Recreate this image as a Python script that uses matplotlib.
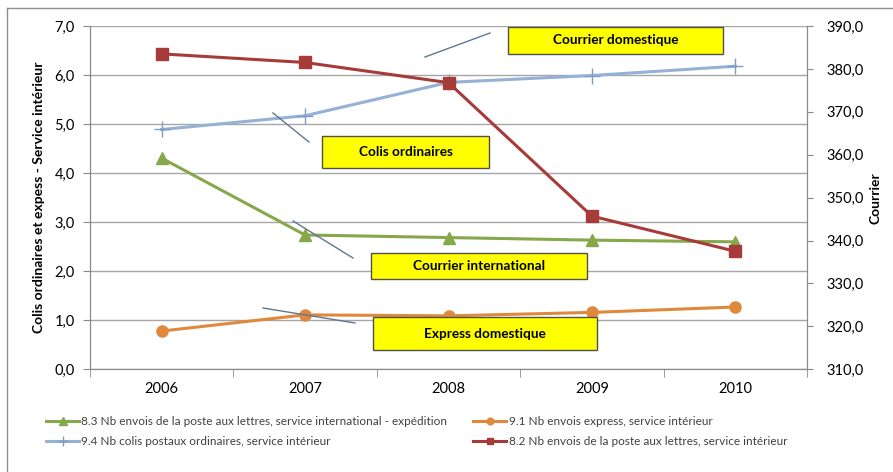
import numpy as np
import matplotlib
matplotlib.use('Agg')
import matplotlib.pyplot as plt
from matplotlib.patches import Rectangle
from matplotlib.lines import Line2D
from matplotlib.ticker import FuncFormatter

plt.rcParams['font.family'] = ['Lato', 'DejaVu Sans']

annees = ['2006', '2007', '2008', '2009', '2010']

# axe gauche : colis ordinaires et express (service intérieur)
colis_ordinaires = [4.89, 5.17, 5.85, 5.99, 6.18]
express_interieur = [0.78, 1.11, 1.09, 1.16, 1.27]

# axe droit : courrier
courrier_international = [359.2, 341.3, 340.7, 340.1, 339.7]
courrier_interieur = [383.5, 381.5, 376.8, 345.7, 337.5]

lbl_intl = '8.3 Nb envois de la poste aux lettres, service international - expédition'
lbl_express = '9.1 Nb envois express, service intérieur'
lbl_colis = '9.4 Nb colis postaux ordinaires, service intérieur'
lbl_dom = '8.2 Nb envois de la poste aux lettres, service intérieur'

c_vert = '#86a84a'
c_orange = '#e0883c'
c_bleu = '#95b1d6'
c_rouge = '#a63b3a'
c_axe = '#8a8a8a'

W, H = 893, 472
fig = plt.figure(figsize=(W / 100, H / 100), dpi=100)

def fx(x):
    return x / W

def fy(y):
    return 1 - y / H

ax = fig.add_axes([fx(90), fy(369.3), 717 / W, 343.3 / H])
ax2 = ax.twinx()

x = np.arange(len(annees))

ax.plot(x, colis_ordinaires, color=c_bleu, lw=2.2, marker='+', ms=12,
        mec='#7f9cc4', mew=1, label=lbl_colis)
ax.plot(x, express_interieur, color=c_orange, lw=2.2, marker='o', ms=8,
        label=lbl_express)
ax2.plot(x, courrier_international, color=c_vert, lw=2.2, marker='^', ms=9,
         label=lbl_intl)
ax2.plot(x, courrier_interieur, color=c_rouge, lw=2.2, marker='s', ms=8,
         label=lbl_dom)

ax.set_xlim(-0.5, 4.5)
ax.set_ylim(0, 7)
ax2.set_ylim(310, 390)
ax.set_yticks(np.arange(0, 8, 1))
ax2.set_yticks(np.arange(310, 391, 10))

virgule = FuncFormatter(lambda v, p: ('%.1f' % v).replace('.', ','))
ax.yaxis.set_major_formatter(virgule)
ax2.yaxis.set_major_formatter(virgule)

ax.set_xticks(x)
ax.set_xticklabels(annees)
ax.set_xticks(np.arange(-0.5, 4.6, 1), minor=True)
ax.tick_params(axis='x', which='major', length=0, pad=9, labelsize=10.5)
ax.tick_params(axis='x', which='minor', length=6, color=c_axe)
ax.tick_params(axis='y', length=5, color=c_axe, pad=6, labelsize=10.5)
ax2.tick_params(axis='y', length=4, color=c_axe, pad=10, labelsize=10.5)

ax.yaxis.grid(True, color='#a6a6a6', lw=1)
ax.set_axisbelow(True)
for a in (ax, ax2):
    a.spines['top'].set_visible(False)
    for s in ('left', 'right', 'bottom'):
        a.spines[s].set_color(c_axe)

ax.set_ylabel('Colis ordinaires et expess - Service intérieur',
              fontweight='bold', fontsize=10)
ax.yaxis.set_label_coords((45 - 90) / 717, 0.5)
ax2.set_ylabel('Courrier', fontweight='bold', fontsize=10)
ax2.yaxis.set_label_coords((870 - 90) / 717, 0.5)

# encadrés jaunes
encadres = [
    ('Courrier domestique', 508, 27, 723, 54),
    ('Colis ordinaires', 322, 136, 489, 168),
    ('Courrier international', 371, 253, 587, 279),
    ('Express domestique', 373, 317, 597, 350),
]
for txt, x0, y0, x1, y1 in encadres:
    fig.add_artist(Rectangle((fx(x0), fy(y1)), (x1 - x0) / W, (y1 - y0) / H,
                             transform=fig.transFigure, facecolor='#ffff00',
                             edgecolor='#505050', lw=1, zorder=5))
    fig.text(fx((x0 + x1) / 2), fy((y0 + y1) / 2), txt, ha='center',
             va='center', fontsize=9.8, fontweight='bold', zorder=6)

# traits de rappel
rappels = [
    (425, 57, 490, 33),
    (273, 113, 309, 142),
    (293, 221, 353, 258),
    (263, 308, 355, 323),
]
for x0, y0, x1, y1 in rappels:
    fig.add_artist(Line2D([fx(x0), fx(x1)], [fy(y0), fy(y1)],
                          transform=fig.transFigure, color='#5f7795',
                          lw=1, zorder=7))

# cadre
fig.add_artist(Line2D([fx(7), fx(7)], [fy(8), fy(472)],
                      transform=fig.transFigure, color='#909090', lw=1))
fig.add_artist(Line2D([fx(7), fx(893)], [fy(8), fy(8)],
                      transform=fig.transFigure, color='#909090', lw=1))

h1, l1 = ax.get_legend_handles_labels()
h2, l2 = ax2.get_legend_handles_labels()
handles = [h2[0], h1[0], h1[1], h2[1]]
labels = [l2[0], l1[0], l1[1], l2[1]]
leg = fig.legend(handles, labels, ncol=2, loc='upper left',
                 bbox_to_anchor=(fx(46), fy(416)), frameon=False,
                 fontsize=8.5, borderpad=0, borderaxespad=0,
                 handlelength=2.8, handletextpad=0.2, columnspacing=2.2,
                 labelspacing=0.75, markerscale=0.6)
for t in leg.get_texts():
    t.set_color('#404040')

fig.savefig('out.png', dpi=100)
